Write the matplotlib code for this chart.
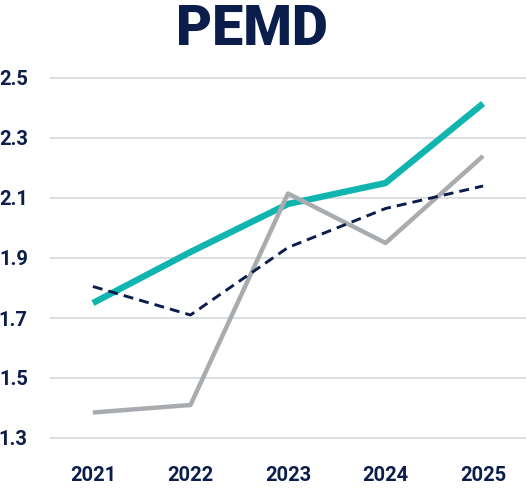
import matplotlib.pyplot as plt

# values
years = [2021, 2022, 2023, 2024, 2025]
teal_vals = [1.75, 1.92, 2.08, 2.15, 2.415]
gray_vals = [1.385, 1.41, 2.115, 1.95, 2.24]
dash_vals = [1.805, 1.71, 1.935, 2.065, 2.14]
y_ticks = [1.3, 1.5, 1.7, 1.9, 2.1, 2.3, 2.5]

NAVY = "#0b1d4b"
TEAL = "#10b5b0"
GRAY = "#a9acaf"
GRID = "#dcdfe2"

W, H = 526, 492
fig = plt.figure(figsize=(W / 100, H / 100), dpi=100)
# axes box in pixels: left 50, right 526, top 69, bottom 447
ax = fig.add_axes([50 / W, 1 - 447 / H, 476 / W, (447 - 69) / H])

ax.plot(years, teal_vals, color=TEAL, lw=4.6, solid_capstyle="butt", zorder=3)
ax.plot(years, gray_vals, color=GRAY, lw=3.2, solid_capstyle="butt", zorder=4)
ax.plot(years, dash_vals, color=NAVY, lw=2.1, linestyle=(0, (3.4, 2.1)), zorder=5)

ax.set_xlim(2020.56, 2025.44)
ax.set_ylim(1.27, 2.53)
ax.set_xticks(years)
ax.set_yticks(y_ticks)
ax.set_yticklabels([f"{v:.1f}" for v in y_ticks])
ax.grid(axis="y", color=GRID, lw=1.4)
ax.set_axisbelow(True)
for s in ax.spines.values():
    s.set_visible(False)
ax.tick_params(length=0)
ax.tick_params(axis="y", pad=16)
ax.tick_params(axis="x", pad=14)
for lab in ax.get_xticklabels() + ax.get_yticklabels():
    lab.set_family("Roboto")
    lab.set_fontweight("bold")
    lab.set_fontsize(14.5)
    lab.set_color(NAVY)

fig.text(252 / W, 1 - 45 / H, "PEMD", ha="center", va="baseline",
         family="Roboto", fontweight="black", fontsize=40, color=NAVY)

fig.savefig("out.png", dpi=100)
